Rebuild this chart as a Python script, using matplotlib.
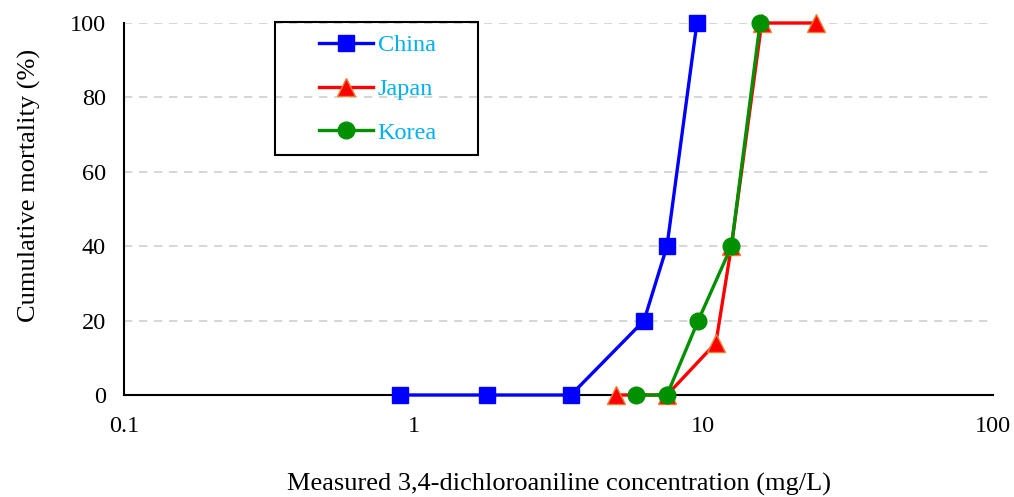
import matplotlib.pyplot as plt
from matplotlib.patches import Rectangle

plt.rcParams['font.family'] = ['Liberation Serif', 'DejaVu Serif']

china_x = [0.9, 1.79, 3.49, 6.24, 7.49, 9.5]
china_y = [0, 0, 0, 20, 40, 100]
japan_x = [4.99, 7.49, 11.05, 12.5, 15.9, 24.5]
japan_y = [0, 0, 14, 40, 100, 100]
korea_x = [5.85, 7.49, 9.6, 12.5, 15.7]
korea_y = [0, 0, 20, 40, 100]

fig = plt.figure(figsize=(10.14, 4.97), dpi=100)
ax = fig.add_axes([0.1223, 0.2052, 0.8570, 0.7485])

ax.plot(china_x, china_y, color='#0000FF', lw=2.4, marker='s', ms=12, label='China',
        zorder=3, clip_on=False)
ax.plot(japan_x, japan_y, color='#FF0000', lw=2.4, marker='^', ms=13, mec='#ED7D31', mew=1,
        label='Japan', zorder=3, clip_on=False)
ax.plot(korea_x, korea_y, color='#009000', lw=2.4, marker='o', ms=12, label='Korea',
        zorder=3, clip_on=False)

ax.set_xscale('log')
ax.set_xlim(0.1, 100)
ax.set_ylim(0, 100)
ax.set_xticks([0.1, 1, 10, 100])
ax.set_xticklabels(['0.1', '1', '10', '100'])
ax.minorticks_off()
ax.set_yticks([0, 20, 40, 60, 80, 100])
ax.tick_params(length=0, labelsize=17.5)
ax.tick_params(axis='x', pad=15)
ax.tick_params(axis='y', pad=13)
ax.yaxis.grid(True, color='#D0D0D0', ls=(0, (5, 4)), lw=1.2)
ax.set_axisbelow(True)
for s in ['top', 'right']:
    ax.spines[s].set_visible(False)
ax.spines['left'].set_linewidth(1.5)
ax.spines['bottom'].set_linewidth(1.5)

ax.set_xlabel('Measured 3,4-dichloroaniline concentration (mg/L)', fontsize=19, labelpad=26)
ax.set_ylabel('Cumulative mortality (%)', fontsize=19)
ax.yaxis.set_label_coords(-0.0955, 0.5645)

# legend box drawn separately so its padding can match the reference
box = Rectangle((0.1738, 0.645), 0.2336, 0.3577, transform=ax.transAxes, fill=False,
                edgecolor='black', lw=1.5, clip_on=False, zorder=4)
ax.add_patch(box)
leg = ax.legend(loc='center', bbox_to_anchor=(0.2923, 0.8226), borderaxespad=0,
                fontsize=17.5, frameon=False, labelspacing=0.9, handlelength=2.2,
                borderpad=0, handletextpad=0.2)
for t in leg.get_texts():
    t.set_color('#00B0F0')

fig.savefig('out.png', dpi=100)
